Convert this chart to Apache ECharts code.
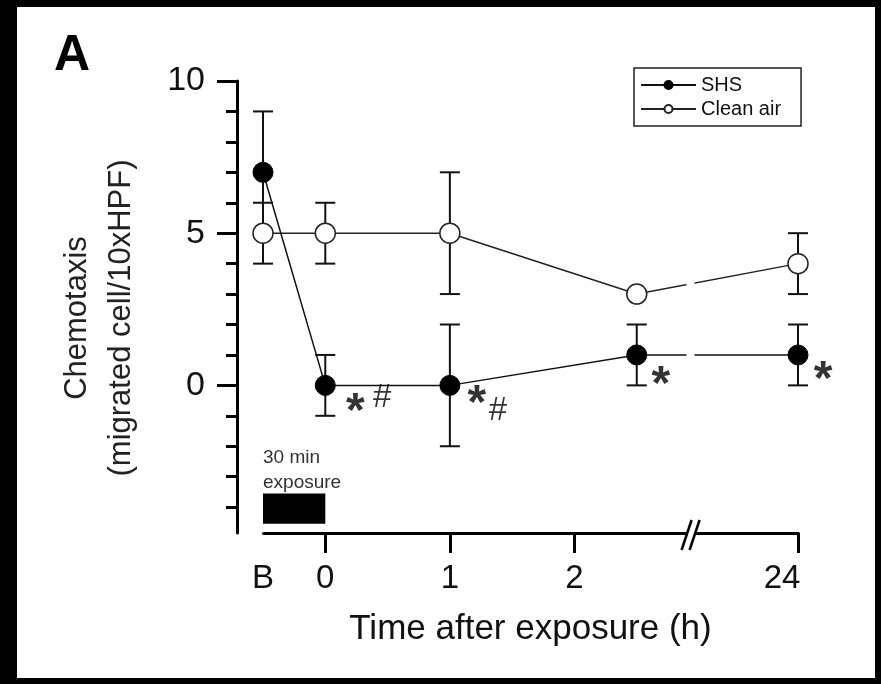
<!DOCTYPE html>
<html>
<head>
<meta charset="utf-8">
<script src="https://cdn.jsdelivr.net/npm/echarts@6/dist/echarts.min.js"></script>
<style>
  html, body { margin: 0; padding: 0; background: #000; }
  #chart { width: 881px; height: 684px; }
</style>
</head>
<body>
<div id="chart"></div>
<script>
// ---- Data -------------------------------------------------------------
// Sampling times in hours after the 30 min exposure; "B" = baseline.
const sampleHours = [-0.5, 0, 1, 2.5, 24];
const tickHours = [-0.5, 0, 1, 2, 24];
const tickLabels = ['B', '0', '1', '2', '24'];

// Chemotaxis (migrated cell / 10xHPF), mean and error
const shsMean = [7, 0, 0, 1, 1];
const shsErr = [2, 1, 2, 1, 1];
const cleanMean = [5, 5, 5, 3, 4];
const cleanErr = [1, 1, 2, 0, 1];

// Significance marks on the SHS points
const shsStar = [false, true, true, true, true];
const shsHash = [false, true, true, false, false];

// Y axis ticks
const yMajorTicks = [0, 5, 10];
const yMinorTicks = [-4, -3, -2, -1, 0, 1, 2, 3, 4, 5, 6, 7, 8, 9, 10];

// Exposure window (h)
const exposureStart = -0.5;
const exposureEnd = 0;

// Time-axis break between 2.5 h and 24 h
const axisBreak = { start: 2.9, end: 23.17 };

// ---- Styling ----------------------------------------------------------
const FONT = '"Liberation Sans", Arial, Helvetica, sans-serif';
const INK = '#111';
const Y_MIN = -4.85, Y_MAX = 10;
const BAR_TOP = -3.55, BAR_BOTTOM = -4.55;
const starOffsets = [null, [30, 27], [27, 19], [24, 31], [25, 26]];
const hashOffsets = [null, [57, 13], [48, 26], null, null];

const chart = echarts.init(document.getElementById('chart'), null, { renderer: 'canvas' });

function errorBars(name, mean, err, z) {
  return {
    type: 'custom',
    name: name,
    z: z,
    silent: true,
    data: sampleHours.map((h, i) => [h, mean[i] - err[i], mean[i] + err[i]]),
    encode: { x: 0, y: [1, 2] },
    renderItem(params, api) {
      const lo = api.value(1), hi = api.value(2);
      if (lo === hi) return null;
      const x = api.value(0);
      const top = api.coord([x, hi]);
      const bot = api.coord([x, lo]);
      const hw = 10;
      const style = { stroke: INK, lineWidth: 2 };
      return {
        type: 'group',
        children: [
          { type: 'line', shape: { x1: top[0], y1: top[1], x2: bot[0], y2: bot[1] }, style },
          { type: 'line', shape: { x1: top[0] - hw, y1: top[1], x2: top[0] + hw, y2: top[1] }, style },
          { type: 'line', shape: { x1: bot[0] - hw, y1: bot[1], x2: bot[0] + hw, y2: bot[1] }, style }
        ]
      };
    }
  };
}

function markSeries(name, flags, text, offsets, fontSize, weight) {
  const data = [];
  sampleHours.forEach((h, i) => {
    if (!flags[i]) return;
    data.push({
      value: [h, shsMean[i]],
      label: { offset: offsets[i] }
    });
  });
  return {
    type: 'scatter',
    name: name,
    z: 6,
    silent: true,
    symbolSize: 0,
    data: data,
    label: {
      show: true,
      position: 'inside',
      formatter: text,
      color: '#000',
      fontFamily: FONT,
      fontSize: fontSize,
      fontWeight: weight,
      align: 'center',
      verticalAlign: 'middle'
    }
  };
}

const option = {
  backgroundColor: '#000',
  animation: false,
  title: {
    text: 'A',
    left: 54,
    top: 31,
    padding: 0,
    textStyle: { fontFamily: FONT, fontSize: 50, fontWeight: 'bold', color: '#000' }
  },
  legend: {
    orient: 'vertical',
    left: 634,
    top: 68,
    z: 300,
    data: ['SHS', 'Clean air'],
    itemWidth: 55,
    itemHeight: 10,
    itemGap: 4,
    padding: [7, 20, 7, 6],
    borderColor: '#222',
    borderWidth: 1.5,
    backgroundColor: '#fff',
    selectedMode: false,
    textStyle: { fontFamily: FONT, fontSize: 20, color: INK }
  },
  grid: { left: 263, right: 83, top: 81, bottom: 151, containLabel: false },
  xAxis: {
    type: 'value',
    min: -0.5,
    max: 24,
    breaks: [{ start: axisBreak.start, end: axisBreak.end, gap: '1.5%' }],
    breakArea: {
      show: true,
      itemStyle: { color: '#fff', borderColor: '#fff', borderWidth: 0, opacity: 1 },
      zigzagAmplitude: 0,
      expandOnClick: false
    },
    name: 'Time after exposure (h)',
    nameLocation: 'middle',
    nameGap: 79,
    nameTextStyle: { fontFamily: FONT, fontSize: 35, color: INK },
    axisLine: { show: true, onZero: false, lineStyle: { color: '#000', width: 3 } },
    axisTick: { show: true, customValues: tickHours.filter(h => h >= 0), length: 20, lineStyle: { color: '#000', width: 3 } },
    axisLabel: {
      show: true,
      customValues: tickHours,
      margin: 29,
      fontFamily: FONT,
      fontSize: 33,
      color: INK,
      formatter(v) {
        const i = tickHours.findIndex(h => Math.abs(h - v) < 1e-6);
        if (i < 0) return '';
        const t = tickLabels[i];
        return i === tickHours.length - 1 ? '{end|' + t + '}' : t;
      },
      rich: { end: { fontFamily: FONT, fontSize: 33, color: INK, padding: [0, 32, 0, 0] } }
    },
    splitLine: { show: false }
  },
  yAxis: [
    {
      type: 'value',
      position: 'left',
      min: Y_MIN,
      max: Y_MAX,
      offset: 26,
      axisLine: { show: true, onZero: false, lineStyle: { color: '#000', width: 3 } },
      axisTick: { show: true, customValues: yMinorTicks, length: 11, lineStyle: { color: '#000', width: 3 } },
      axisLabel: { show: false },
      splitLine: { show: false },
      name: 'Chemotaxis\n(migrated cell/10xHPF)',
      nameLocation: 'middle',
      nameRotate: 90,
      nameGap: 94,
      nameTextStyle: { fontFamily: FONT, fontSize: 31, lineHeight: 44, color: '#222', padding: [0, 22, 0, 0] }
    },
    {
      type: 'value',
      position: 'left',
      min: Y_MIN,
      max: Y_MAX,
      offset: 26,
      axisLine: { show: false, onZero: false },
      axisTick: { show: true, customValues: yMajorTicks, length: 20, lineStyle: { color: '#000', width: 3 } },
      axisLabel: { show: true, customValues: yMajorTicks, margin: 32, fontFamily: FONT, fontSize: 34, color: INK },
      splitLine: { show: false }
    }
  ],
  series: [
    errorBars('Clean air error', cleanMean, cleanErr, 1),
    errorBars('SHS error', shsMean, shsErr, 1),
    {
      type: 'line',
      name: 'Clean air',
      z: 3,
      data: sampleHours.map((h, i) => [h, cleanMean[i]]),
      symbol: 'circle',
      symbolSize: 20,
      showAllSymbol: true,
      lineStyle: { color: '#222', width: 1.5 },
      itemStyle: { color: '#fff', borderColor: '#222', borderWidth: 1.5 }
    },
    {
      type: 'line',
      name: 'SHS',
      z: 4,
      data: sampleHours.map((h, i) => [h, shsMean[i]]),
      symbol: 'circle',
      symbolSize: 20,
      showAllSymbol: true,
      lineStyle: { color: '#111', width: 1.5 },
      itemStyle: { color: '#000', borderColor: '#000', borderWidth: 1 },
      markArea: {
        silent: true,
        itemStyle: { color: '#000' },
        label: {
          show: true,
          position: [0, 2],
          align: 'left',
          verticalAlign: 'bottom',
          formatter: '30 min\nexposure',
          fontFamily: FONT,
          fontSize: 19,
          lineHeight: 25,
          color: '#333'
        },
        data: [[
          { coord: [exposureStart, BAR_TOP] },
          { coord: [exposureEnd, BAR_BOTTOM] }
        ]]
      }
    },
    markSeries('SHS vs baseline', shsStar, '*', starOffsets, 48, 'bold'),
    markSeries('SHS vs clean air', shsHash, '#', hashOffsets, 33, 'normal')
  ]
};

chart.setOption(option);

// Panel background and the "//" break symbol on the time axis
function drawDecor() {
  const px = v => chart.convertToPixel({ xAxisIndex: 0 }, v);
  const x0 = px(axisBreak.start);
  const x1 = px(axisBreak.end);
  const ay = chart.convertToPixel({ yAxisIndex: 0 }, Y_MIN);
  const cx = (x0 + x1) / 2;
  const slash = dx => ({
    type: 'line',
    z: 100,
    silent: true,
    shape: { x1: cx + dx - 5, y1: ay + 17, x2: cx + dx + 5, y2: ay - 13 },
    style: { stroke: '#000', lineWidth: 2.5 }
  });
  chart.setOption({
    graphic: [
      { type: 'rect', z: -100, silent: true, shape: { x: 17, y: 7, width: 858, height: 671 }, style: { fill: '#fff' } },
      { type: 'rect', z: 99, silent: true, shape: { x: cx - 4, y: ay - 3, width: 8, height: 6 }, style: { fill: '#fff' } },
      slash(-4),
      slash(4)
    ]
  });
}
drawDecor();
</script>
</body>
</html>
